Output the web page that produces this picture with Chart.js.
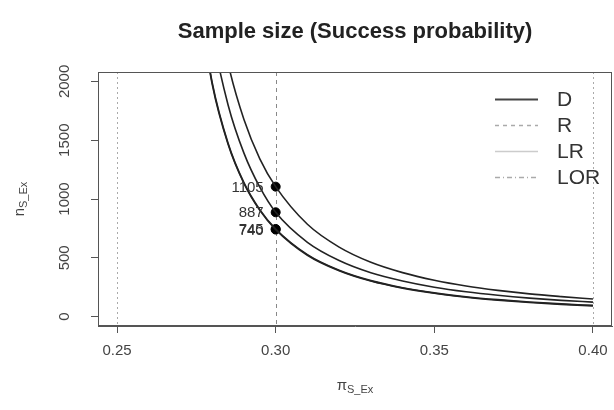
<!DOCTYPE html>
<html>
<head>
<meta charset="utf-8">
<script src="https://cdn.jsdelivr.net/npm/chart.js@4"></script>
<style>
    html, body { margin: 0; padding: 0; background: #fff; }
    #wrap { width: 614px; height: 410px; }
</style>
</head>
<body>
<div id="wrap"><canvas id="sampleChart" width="614" height="410"></canvas></div>
<script>
// Success probability grid (x axis)
const probs = [0.275, 0.28, 0.285, 0.29, 0.295, 0.30, 0.31, 0.32, 0.33, 0.34, 0.35, 0.36, 0.37, 0.38, 0.39, 0.40];

// Sample sizes
const sizeD = [2830, 1990, 1475, 1140, 910, 745, 527, 394, 306, 246, 202, 169, 144, 124, 108, 95];
const sizeR = [4075, 2886, 2153, 1676, 1342, 1105, 785, 591, 462, 374, 309, 260, 223, 193, 170, 150];
const sizeLR = [3400, 2420, 1800, 1390, 1100, 887, 632, 477, 373, 303, 250, 211, 181, 157, 138, 123];
const sizeLOR = [2810, 1975, 1465, 1132, 903, 740, 522, 390, 302, 242, 198, 165, 140, 120, 104, 91];

// Marked design point
const markedProb = 0.30;
const markedSizes = [1105, 887, 745, 740];

// Axis ticks
const xTicks = [0.25, 0.30, 0.35, 0.40];
const yTicks = [0, 500, 1000, 1500, 2000];

// Legend entries
const legendLabels = ["D", "R", "LR", "LOR"];

const FONT = "'Liberation Sans', Arial, sans-serif";

const toPoints = (ys) => probs.map((p, i) => ({ x: p, y: ys[i] }));

const curve = (label, ys) => ({
    label: label,
    data: toPoints(ys),
    borderColor: "#222",
    borderWidth: 1.6,
    pointRadius: 0,
    fill: false,
    cubicInterpolationMode: "monotone",
    showLine: true,
});

// Extra drawing: reference lines, box, titles, labels, legend
const extrasPlugin = {
    id: "extras",
    beforeDatasetsDraw(chart) {
        const { ctx, chartArea: a, scales } = chart;
        const xs = scales.x;
        ctx.save();
        const refLines = [
            { v: 0.25, dash: [2, 3], color: "#aaa" },
            { v: 0.30, dash: [4, 4], color: "#888" },
            { v: 0.40, dash: [2, 3], color: "#aaa" },
        ];
        refLines.forEach((r) => {
            const px = Math.round(xs.getPixelForValue(r.v)) + 0.5;
            ctx.strokeStyle = r.color;
            ctx.lineWidth = 1;
            ctx.setLineDash(r.dash);
            ctx.beginPath();
            ctx.moveTo(px, a.top);
            ctx.lineTo(px, a.bottom);
            ctx.stroke();
        });
        ctx.restore();
    },
    afterDraw(chart) {
        const { ctx, chartArea: a, scales } = chart;
        const xs = scales.x;
        const ys = scales.y;
        ctx.save();

        // Plot box
        ctx.strokeStyle = "#555";
        ctx.lineWidth = 1;
        ctx.setLineDash([]);
        ctx.strokeRect(a.left + 0.5, a.top + 0.5, a.right - a.left - 1, a.bottom - a.top - 1);

        // Title
        ctx.fillStyle = "#222";
        ctx.font = "bold 22px " + FONT;
        ctx.textAlign = "center";
        ctx.textBaseline = "middle";
        ctx.fillText("Sample size (Success probability)", (a.left + a.right) / 2, 32);

        // Tick labels
        ctx.font = "15px " + FONT;
        ctx.fillStyle = "#444";
        xTicks.forEach((t) => {
            ctx.fillText(t.toFixed(2), xs.getPixelForValue(t), 351);
        });
        yTicks.forEach((t) => {
            ctx.save();
            ctx.translate(65, ys.getPixelForValue(t));
            ctx.rotate(-Math.PI / 2);
            ctx.fillText(String(t), 0, 0);
            ctx.restore();
        });

        // Axis titles with subscript
        const drawSub = (main, sub) => {
            ctx.font = "15px " + FONT;
            const w1 = ctx.measureText(main).width;
            ctx.font = "11px " + FONT;
            const w2 = ctx.measureText(sub).width;
            const start = -(w1 + w2) / 2;
            ctx.textAlign = "left";
            ctx.font = "15px " + FONT;
            ctx.fillText(main, start, 0);
            ctx.font = "11px " + FONT;
            ctx.fillText(sub, start + w1, 4);
        };
        ctx.fillStyle = "#444";
        ctx.save();
        ctx.translate((a.left + a.right) / 2, 386);
        drawSub("\u03C0", "S_Ex");
        ctx.restore();
        ctx.save();
        ctx.translate(20, (a.top + a.bottom) / 2);
        ctx.rotate(-Math.PI / 2);
        drawSub("n", "S_Ex");
        ctx.restore();

        // Labels of marked points
        ctx.font = "15px " + FONT;
        ctx.fillStyle = "#333";
        ctx.textAlign = "right";
        ctx.textBaseline = "middle";
        const mx = xs.getPixelForValue(markedProb);
        markedSizes.forEach((s) => {
            ctx.fillText(String(s), mx - 12, ys.getPixelForValue(s) + 1);
        });

        // Legend (no box)
        const styles = [
            { dash: [], color: "#444", width: 2 },
            { dash: [4, 4], color: "#aaa", width: 1.5 },
            { dash: [], color: "#ccc", width: 1.5 },
            { dash: [5, 3, 1, 3], color: "#aaa", width: 1.5 },
        ];
        ctx.textAlign = "left";
        ctx.font = "21px " + FONT;
        legendLabels.forEach((lab, i) => {
            const y = 99 + i * 26;
            const st = styles[i];
            ctx.strokeStyle = st.color;
            ctx.lineWidth = st.width;
            ctx.setLineDash(st.dash);
            ctx.beginPath();
            ctx.moveTo(495, y + 0.5);
            ctx.lineTo(538, y + 0.5);
            ctx.stroke();
            ctx.fillStyle = "#333";
            ctx.fillText(lab, 557, y + 1);
        });
        ctx.restore();
    },
};

new Chart(document.getElementById("sampleChart"), {
    type: "scatter",
    data: {
        datasets: [
            curve("D", sizeD),
            curve("R", sizeR),
            curve("LR", sizeLR),
            curve("LOR", sizeLOR),
            {
                label: "marked",
                data: markedSizes.map((s) => ({ x: markedProb, y: s })),
                backgroundColor: "#000",
                borderColor: "#000",
                pointRadius: 4.5,
                showLine: false,
            },
        ],
    },
    options: {
        responsive: false,
        animation: false,
        layout: { autoPadding: false, padding: { top: 72, right: 2, left: 0, bottom: 0 } },
        plugins: {
            legend: { display: false },
            tooltip: { enabled: false },
        },
        scales: {
            x: {
                type: "linear",
                min: 0.244,
                max: 0.406,
                afterBuildTicks: (s) => { s.ticks = xTicks.map((v) => ({ value: v })); },
                afterFit: (s) => { s.height = 84; },
                ticks: { display: false },
                grid: { drawOnChartArea: false, tickLength: 7, tickColor: "#555" },
                border: { color: "#555" },
            },
            y: {
                min: -80,
                max: 2080,
                afterBuildTicks: (s) => { s.ticks = yTicks.map((v) => ({ value: v })); },
                afterFit: (s) => { s.width = 98; },
                ticks: { display: false },
                grid: { drawOnChartArea: false, tickLength: 7, tickColor: "#555" },
                border: { color: "#555" },
            },
        },
    },
    plugins: [extrasPlugin],
});
</script>
</body>
</html>
